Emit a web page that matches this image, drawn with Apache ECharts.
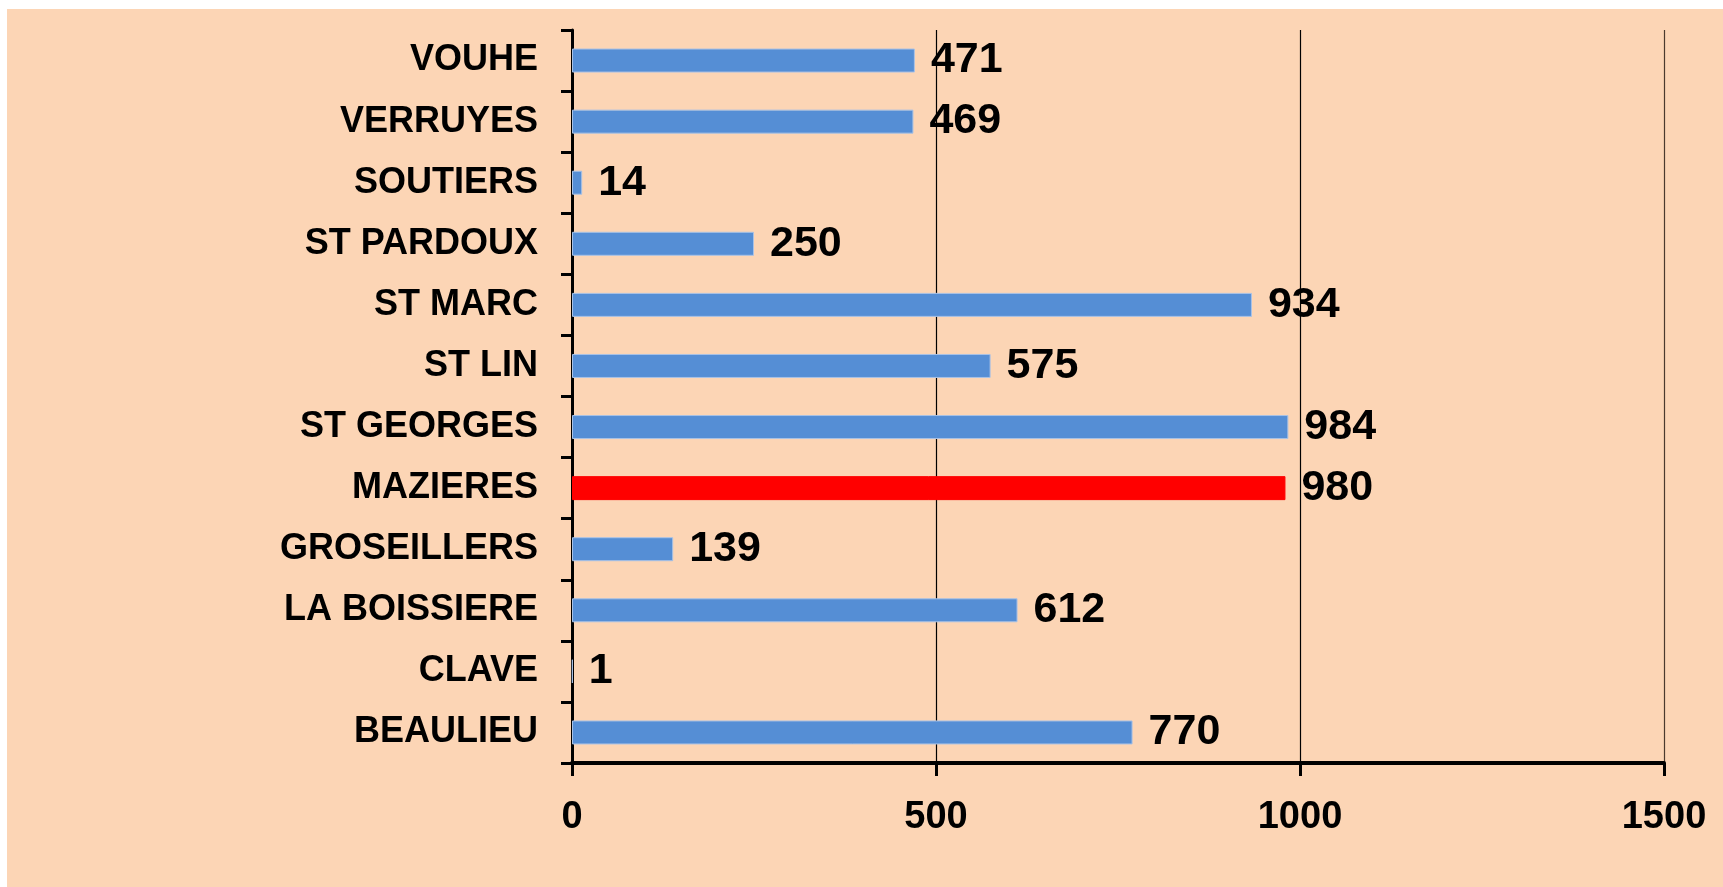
<!DOCTYPE html>
<html>
<head>
<meta charset="utf-8">
<title>Communes</title>
<script src="https://cdn.jsdelivr.net/npm/echarts@6/dist/echarts.min.js"></script>
<style>
  html, body { margin: 0; padding: 0; background: #ffffff; }
  #chart {
    position: absolute;
    left: 7px;
    top: 9px;
    width: 1716px;
    height: 878px;
  }
</style>
</head>
<body>
<div id="chart"></div>
<script>
// data, top to bottom
var communes = ["VOUHE", "VERRUYES", "SOUTIERS", "ST PARDOUX", "ST MARC", "ST LIN",
  "ST GEORGES", "MAZIERES", "GROSEILLERS", "LA BOISSIERE", "CLAVE", "BEAULIEU"];
var valeurs = [471, 469, 14, 250, 934, 575, 984, 980, 139, 612, 1, 770];
var enRouge = ["MAZIERES"];
var xTicks = [0, 500, 1000, 1500];

var chartDom = document.getElementById("chart");
var myChart = echarts.init(chartDom);
var font = "'Liberation Sans', Arial, sans-serif";

var barData = valeurs.map(function (v, i) {
  var rouge = enRouge.indexOf(communes[i]) >= 0;
  return {
    value: v,
    itemStyle: {
      color: rouge ? "#ff0000" : "#558ed5",
      borderColor: rouge ? "#ff0000" : "#a9c2e6",
      borderWidth: 1
    }
  };
});

var option = {
  backgroundColor: "#fcd5b5",
  animation: false,
  grid: {
    left: 565,
    right: 59,
    top: 21,
    bottom: 124,
    containLabel: false,
    outerBoundsMode: "none"
  },
  xAxis: {
    type: "value",
    min: xTicks[0],
    max: xTicks[xTicks.length - 1],
    interval: 500,
    axisLine: { show: true, lineStyle: { color: "#000", width: 4 } },
    axisTick: { show: true, length: 13, lineStyle: { color: "#000", width: 3 } },
    axisLabel: {
      margin: 36,
      color: "#000",
      fontSize: 38,
      fontWeight: "bold",
      fontFamily: font,
      formatter: function (v) { return String(v); }
    },
    splitLine: {
      show: true,
      lineStyle: { color: ["#000", "#000", "#000", "#4b3a2e"], width: 1.2 }
    }
  },
  yAxis: {
    type: "category",
    data: communes,
    inverse: true,
    axisLine: { show: true, lineStyle: { color: "#000", width: 3 } },
    axisTick: { show: true, length: 11, lineStyle: { color: "#000", width: 3 } },
    axisLabel: {
      margin: 34,
      color: "#000",
      fontSize: 36,
      fontWeight: "bold",
      fontFamily: font
    },
    splitLine: { show: false }
  },
  series: [
    {
      type: "bar",
      data: barData,
      barWidth: 24,
      label: {
        show: true,
        position: "right",
        distance: 16,
        color: "#000",
        fontSize: 43,
        fontWeight: "bold",
        fontFamily: font
      }
    }
  ]
};

myChart.setOption(option);
</script>
</body>
</html>
